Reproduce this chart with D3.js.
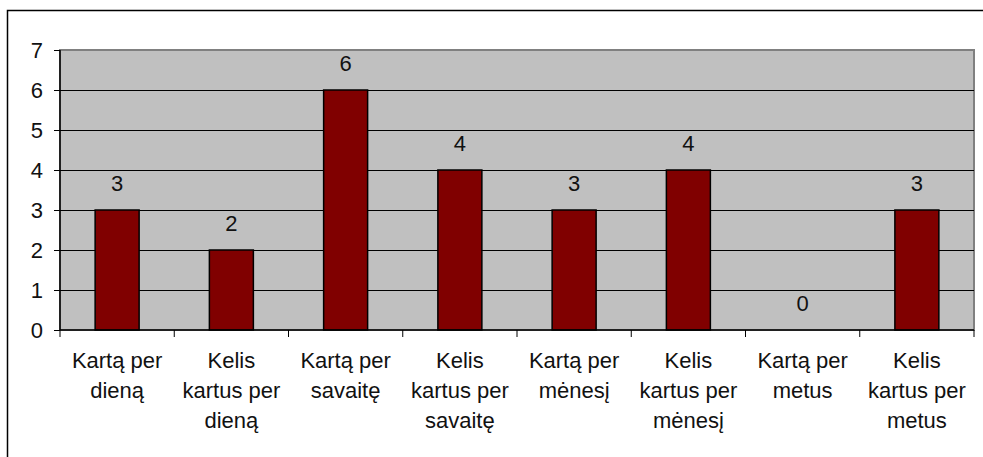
<!DOCTYPE html>
<html>
<head>
<meta charset="utf-8">
<script src="https://cdn.jsdelivr.net/npm/d3@7"></script>
<style>
  body { margin: 0; background: #fff; }
  svg { display: block; font-family: "Liberation Sans", Arial, sans-serif; }
</style>
</head>
<body>
<svg id="chart" width="983" height="457"></svg>
<script>
var categorias = [
  "Kartą per\ndieną",
  "Kelis\nkartus per\ndieną",
  "Kartą per\nsavaitę",
  "Kelis\nkartus per\nsavaitę",
  "Kartą per\nmėnesį",
  "Kelis\nkartus per\nmėnesį",
  "Kartą per\nmetus",
  "Kelis\nkartus per\nmetus"
];
var valores = [3, 2, 6, 4, 3, 4, 0, 3];
var yTicks = [0, 1, 2, 3, 4, 5, 6, 7];

var svg = d3.select("#chart");

// outer chart border (runs off the right and bottom edge)
svg.append("rect")
  .attr("x", 7.5).attr("y", 10.5)
  .attr("width", 990).attr("height", 460)
  .attr("fill", "none").attr("stroke", "#000").attr("stroke-width", 1.5);

var margin = {top: 50, left: 60},
    width = 914,
    height = 280;

var g = svg.append("g").attr("transform", "translate(" + margin.left + "," + margin.top + ")");

var x = d3.scaleBand()
  .domain(d3.range(categorias.length))
  .range([0, width])
  .paddingInner(0.615)
  .paddingOuter(0.3075);

var y = d3.scaleLinear()
  .domain([0, 7])
  .range([height, 0]);

// plot area
g.append("rect")
  .attr("width", width).attr("height", height)
  .attr("fill", "#c0c0c0")
  .attr("stroke", "#808080").attr("stroke-width", 2);

// gridlines
g.selectAll("line.grid")
  .data(yTicks.filter(function(d) { return d > 0 && d < 7; }))
  .enter().append("line")
  .attr("class", "grid")
  .attr("x1", 0).attr("x2", width)
  .attr("y1", function(d) { return y(d) + 0.5; })
  .attr("y2", function(d) { return y(d) + 0.5; })
  .attr("stroke", "#000").attr("stroke-width", 1);

// bars
g.selectAll("rect.bar")
  .data(valores)
  .enter().append("rect")
  .attr("class", "bar")
  .attr("x", function(d, i) { return x(i); })
  .attr("y", function(d) { return y(d); })
  .attr("width", x.bandwidth())
  .attr("height", function(d) { return height - y(d); })
  .attr("fill", "#800000")
  .attr("stroke", "#000").attr("stroke-width", 1.5)
  .style("display", function(d) { return d > 0 ? null : "none"; });

// value labels
g.selectAll("text.valor")
  .data(valores)
  .enter().append("text")
  .attr("class", "valor")
  .attr("x", function(d, i) { return x(i) + x.bandwidth() / 2; })
  .attr("y", function(d) { return y(d) - 19.5; })
  .attr("text-anchor", "middle")
  .attr("font-size", "22px")
  .attr("fill", "#111")
  .text(function(d) { return d; });

// y axis
var yAxis = d3.axisLeft(y).tickValues(yTicks).tickFormat(d3.format("d")).tickSize(6).tickPadding(11);
var ya = g.append("g").call(yAxis);
ya.select(".domain").attr("stroke", "#000").attr("stroke-width", 1.5).attr("d", "M0,0V" + height);
ya.selectAll(".tick line").attr("stroke", "#000");
ya.selectAll(".tick text").attr("font-size", "22px").attr("font-family", null).attr("fill", "#111");

// x axis: ticks on band boundaries
var xa = g.append("g").attr("transform", "translate(0," + height + ")");
xa.append("line")
  .attr("x1", 0).attr("x2", width)
  .attr("stroke", "#000").attr("stroke-width", 1.5);
var step = width / categorias.length;
xa.selectAll("line.tick")
  .data(d3.range(categorias.length + 1))
  .enter().append("line")
  .attr("class", "tick")
  .attr("x1", function(d) { return d * step; })
  .attr("x2", function(d) { return d * step; })
  .attr("y1", 0).attr("y2", 7)
  .attr("stroke", "#000");

var etiquetas = xa.selectAll("text.cat")
  .data(categorias)
  .enter().append("text")
  .attr("class", "cat")
  .attr("text-anchor", "middle")
  .attr("font-size", "22px")
  .attr("fill", "#111")
  .attr("transform", function(d, i) { return "translate(" + (x(i) + x.bandwidth() / 2) + ",0)"; });

etiquetas.selectAll("tspan")
  .data(function(d) { return d.split("\n"); })
  .enter().append("tspan")
  .attr("x", 0)
  .attr("y", function(d, i) { return 38 + i * 30; })
  .text(function(d) { return d; });
</script>
</body>
</html>
